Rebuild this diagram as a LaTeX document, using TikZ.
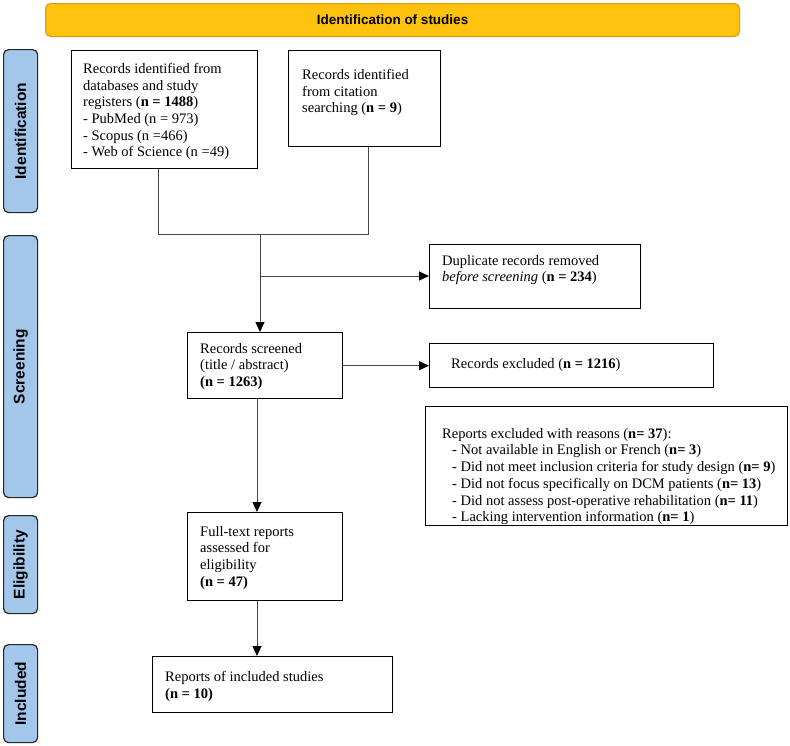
\documentclass[tikz,border=0pt]{standalone}
\usepackage{fontspec}
\setmainfont{Liberation Serif}
\newfontfamily\labfont{Liberation Sans}
\usetikzlibrary{arrows.meta}
\definecolor{titlefill}{HTML}{FFC20E}
\definecolor{titledraw}{HTML}{D09C10}
\definecolor{sidefill}{HTML}{A3C6EB}
\definecolor{linegray}{HTML}{444444}
\begin{document}
\begin{tikzpicture}[x=1pt,y=-1pt,
  box/.style={draw=black, line width=1.4pt, anchor=north west, inner sep=0pt},
  txt/.style={anchor=north west, inner sep=0pt, align=left, font=\fontsize{14.5}{16.7}\selectfont},
  side/.style={draw=black!85, fill=sidefill, rounded corners=5pt, line width=1.2pt, anchor=north west, inner sep=0pt, minimum width=34pt},
  sidetxt/.style={rotate=90, font=\labfont\bfseries\fontsize{15.5}{18}\selectfont},
  conn/.style={draw=linegray, line width=1pt},
  arr/.style={conn, -{Triangle[length=10pt,width=9pt,color=black]}}
]
\useasboundingbox (0,0) rectangle (790,745);

% title bar
\node[draw=titledraw, fill=titlefill, rounded corners=5pt, line width=1pt, anchor=north west, inner sep=0pt,
      minimum width=694pt, minimum height=33pt,
      font=\labfont\bfseries\fontsize{13.5}{16}\selectfont] (title) at (45,3) {Identification of studies};

% side labels
\node[side, minimum height=163pt] (sid) at (3,49) {};
\node[sidetxt] (sidt) at (sid.center) {Identification};
\node[side, minimum height=262pt] (sscr) at (3,235) {};
\node[sidetxt] (sscrt) at (sscr.center) {Screening};
\node[side, minimum height=98pt] (sel) at (3,515) {};
\node[sidetxt] (selt) at (sel.center) {Eligibility};
\node[side, minimum height=98pt] (sin) at (3,644) {};
\node[sidetxt] (sint) at (sin.center) {Included};

% boxes
\node[box, minimum width=186pt, minimum height=118pt] (b1) at (71,50) {};
\node[txt] (b1t) at (83,63) {Records identified from\\ databases and study\\ registers (\textbf{n = 1488})\\ - PubMed (n = 973)\\ - Scopus (n =466)\\ - Web of Science (n =49)};

\node[box, minimum width=152pt, minimum height=96pt] (b2) at (288,50) {};
\node[txt] (b2t) at (302,69) {Records identified\\ from citation\\ searching (\textbf{n = 9})};

\node[box, minimum width=211pt, minimum height=64pt] (dup) at (429,244) {};
\node[txt] (dupt) at (442,255) {Duplicate records removed\\ \textit{before screening} (\textbf{n = 234})};

\node[box, minimum width=155pt, minimum height=66pt] (scr) at (187,332) {};
\node[txt] (scrt) at (200,343) {Records screened\\ (title / abstract)\\ \textbf{(n = 1263)}};

\node[box, minimum width=284pt, minimum height=44pt] (excl) at (429,343) {};
\node[txt, anchor=west] (exclt) at (451,365) {Records excluded (\textbf{n = 1216})};

\node[box, minimum width=362pt, minimum height=119pt] (rep) at (425,406) {};
\node[txt] (rept) at (442,428) {Reports excluded with reasons (\textbf{n= 37}):\\
\hspace*{10pt}- Not available in English or French (\textbf{n= 3})\\
\hspace*{10pt}- Did not meet inclusion criteria for study design (\textbf{n= 9})\\
\hspace*{10pt}- Did not focus specifically on DCM patients (\textbf{n= 13})\\
\hspace*{10pt}- Did not assess post-operative rehabilitation (\textbf{n= 11})\\
\hspace*{10pt}- Lacking intervention information (\textbf{n= 1})};

\node[box, minimum width=155pt, minimum height=88pt] (full) at (187,512) {};
\node[txt] (fullt) at (200,526) {Full-text reports\\ assessed for\\ eligibility\\ \textbf{(n = 47)}};

\node[box, minimum width=240pt, minimum height=56pt] (incl) at (152,656) {};
\node[txt] (inclt) at (165,671) {Reports of included studies\\ \textbf{(n = 10)}};

% connectors
\coordinate (j1) at (158,234);
\coordinate (j2) at (368,234);
\coordinate (j3) at (260,234);
\coordinate (j4) at (260,276);
\coordinate (j5) at (257,400);
\draw[conn] (b1.south -| j1) -- (j1) -- (j2) -- (b2.south -| j2);
\draw[arr] (j3) -- (scr.north -| j3);
\draw[arr] (j4) -- (dup.west |- j4);
\draw[arr] (scr.east) -- (excl.west);
\draw[arr] (scr.south -| j5) -- (full.north -| j5);
\draw[arr] (full.south -| j5) -- (incl.north -| j5);
\end{tikzpicture}
\end{document}
